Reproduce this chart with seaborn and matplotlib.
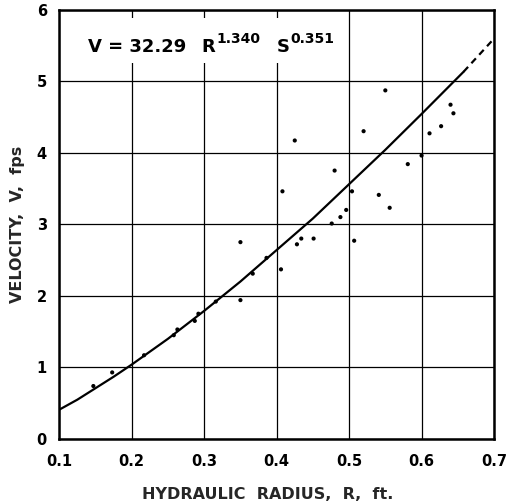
import matplotlib
matplotlib.use("Agg")
import matplotlib.pyplot as plt
import seaborn as sns
import pandas as pd
from matplotlib.patches import Rectangle

# ---- data ----
radius = [0.147, 0.173, 0.217, 0.258, 0.263, 0.287, 0.292, 0.316, 0.350, 0.350,
          0.367, 0.386, 0.406, 0.408, 0.425, 0.428, 0.434, 0.451, 0.476, 0.480,
          0.488, 0.496, 0.504, 0.507, 0.520, 0.541, 0.550, 0.556, 0.581, 0.600,
          0.611, 0.627, 0.640, 0.644]
velocity = [0.74, 0.93, 1.17, 1.45, 1.53, 1.65, 1.75, 1.92, 1.94, 2.75,
            2.31, 2.53, 2.37, 3.46, 4.17, 2.72, 2.80, 2.80, 3.01, 3.75,
            3.10, 3.20, 3.46, 2.77, 4.30, 3.41, 4.87, 3.23, 3.84, 3.96,
            4.27, 4.37, 4.67, 4.55]

# fitted curve (solid part) and its dashed extension
curve_R = [0.10, 0.125, 0.15, 0.175, 0.20, 0.25, 0.30, 0.35, 0.40, 0.45, 0.50, 0.55, 0.60, 0.658]
curve_V = [0.41, 0.55, 0.71, 0.87, 1.04, 1.40, 1.79, 2.20, 2.64, 3.08, 3.56, 4.04, 4.54, 5.13]
ext_R = [0.658, 0.697]
ext_V = [5.13, 5.56]

x_ticks = [0.1, 0.2, 0.3, 0.4, 0.5, 0.6, 0.7]
x_tick_labels = ["0.1", "0.2", "0.3", "0.4", "0.5", "0.6", "0.7"]
y_ticks = [0, 1, 2, 3, 4, 5, 6]
y_tick_labels = ["0", "1", "2", "3", "4", "5", "6"]

pts = pd.DataFrame({"R": radius, "V": velocity})
fit = pd.DataFrame({"R": curve_R, "V": curve_V})
ext = pd.DataFrame({"R": ext_R, "V": ext_V})

sns.set_style("white")
plt.rcParams["font.family"] = ["DejaVu Sans"]

fig = plt.figure(figsize=(5.08, 5.03), dpi=100)
ax = fig.add_axes([59.3 / 508, (503 - 439) / 503, 434.7 / 508, 429.5 / 503])

sns.lineplot(data=fit, x="R", y="V", ax=ax, color="black", lw=1.6, sort=True,
             estimator=None, zorder=3)
ax.plot(ext["R"], ext["V"], color="black", lw=1.6, linestyle=(0, (3, 2.2)), zorder=3)
sns.scatterplot(data=pts, x="R", y="V", ax=ax, color="black", s=9,
                edgecolor="none", zorder=4)

ax.set_xlim(0.1, 0.7)
ax.set_ylim(0, 6)
ax.set_xticks(x_ticks)
ax.set_xticklabels(x_tick_labels)
ax.set_yticks(y_ticks)
ax.set_yticklabels(y_tick_labels)
ax.grid(True, color="black", lw=0.9)
ax.set_axisbelow(True)
ax.tick_params(axis="both", length=0, labelsize=10.5, colors="black")
ax.tick_params(axis="x", pad=11)
ax.tick_params(axis="y", pad=9)
for lab in ax.get_xticklabels() + ax.get_yticklabels():
    lab.set_fontweight("bold")
for sp in ax.spines.values():
    sp.set_color("black")
    sp.set_linewidth(1.8)

ax.set_xlabel("HYDRAULIC  RADIUS,  R,  ft.", fontsize=11.5, fontweight="bold")
ax.set_ylabel("VELOCITY,  V,  fps", fontsize=11.5, fontweight="bold")
ax.xaxis.set_label_coords(0.48, -0.112)
ax.yaxis.set_label_coords(-0.078, 0.5)

# equation annotation with white background
ax.add_patch(Rectangle((0.05, 0.875), 0.6, 0.105, transform=ax.transAxes,
                       facecolor="white", edgecolor="none", zorder=2))
kw = dict(transform=ax.transAxes, fontweight="bold", color="black", zorder=5, va="baseline")
ax.text(0.066, 0.901, "V = 32.29", fontsize=13, **kw)
ax.text(0.327, 0.901, "R", fontsize=13, **kw)
ax.text(0.362, 0.922, "1.340", fontsize=10, **kw)
ax.text(0.50, 0.901, "S", fontsize=13, **kw)
ax.text(0.532, 0.922, "0.351", fontsize=10, **kw)

fig.savefig("out.png", dpi=100, facecolor="white")
